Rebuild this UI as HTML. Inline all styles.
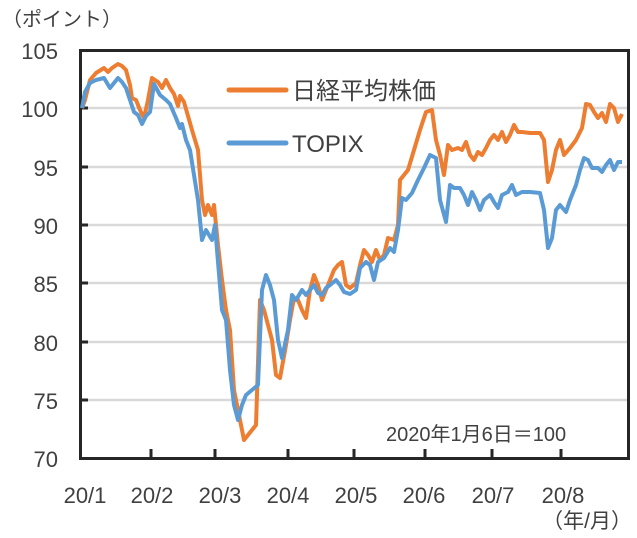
<!DOCTYPE html><html><head><meta charset="utf-8"><style>body{margin:0;background:#fff}svg{display:block}text{font-family:"Liberation Sans","Noto Sans CJK JP",sans-serif;fill:#404040}</style></head><body>
<svg width="637" height="538" viewBox="0 0 637 538">
<g stroke="#d9d9d9" stroke-width="2.5">
<line x1="82" y1="108" x2="628" y2="108"/><line x1="82" y1="167" x2="628" y2="167"/><line x1="82" y1="225" x2="628" y2="225"/><line x1="82" y1="283" x2="628" y2="283"/><line x1="82" y1="342" x2="628" y2="342"/><line x1="82" y1="400" x2="628" y2="400"/></g>
<rect x="80.5" y="50.5" width="548" height="408" fill="none" stroke="#262626" stroke-width="3"/>
<g stroke="#262626" stroke-width="3">
<line x1="80" y1="108" x2="88" y2="108"/><line x1="80" y1="167" x2="88" y2="167"/><line x1="80" y1="225" x2="88" y2="225"/><line x1="80" y1="283" x2="88" y2="283"/><line x1="80" y1="342" x2="88" y2="342"/><line x1="80" y1="400" x2="88" y2="400"/>
<line x1="151" y1="458" x2="151" y2="449"/><line x1="215" y1="458" x2="215" y2="449"/><line x1="288" y1="458" x2="288" y2="449"/><line x1="354" y1="458" x2="354" y2="449"/><line x1="425" y1="458" x2="425" y2="449"/><line x1="492" y1="458" x2="492" y2="449"/><line x1="561" y1="458" x2="561" y2="449"/></g>
<polyline fill="none" stroke="#ed7d31" stroke-width="4" stroke-linejoin="round" points="82,108 85,100 90,80 96,73 104,68 108,72 112,68 118,64 122,66 126,70 130,85 132,98 136,100 140,110 144,118 148,100 152,78 158,82 162,88 166,80 170,88 174,94 178,106 180,96 184,102 192,130 198,150 202,200 205,215 208,205 212,215 214,205 218,245 222,280 226,310 230,330 234,390 238,410 244,440 248,435 256,425 260,300 264,310 268,325 272,340 276,375 280,378 286,345 290,320 294,298 298,300 302,310 306,318 310,290 314,275 318,285 322,300 326,290 330,280 334,270 338,265 342,262 346,285 350,288 356,283 360,265 364,250 368,255 372,262 376,250 380,260 384,255 388,238 394,240 398,225 400,180 404,175 408,170 414,150 420,130 426,112 432,110 436,140 440,155 444,175 448,145 452,150 458,148 462,150 466,142 470,155 474,160 478,152 482,155 486,148 490,140 494,135 498,140 502,132 506,142 510,135 514,125 518,132 522,132 530,133 540,133 544,140 548,182 552,170 556,150 560,140 564,155 570,148 576,140 582,128 586,104 590,105 594,112 598,118 602,113 606,122 610,104 614,108 618,122 622,114"/>
<polyline fill="none" stroke="#5b9bd5" stroke-width="4" stroke-linejoin="round" points="82,108 85,92 90,83 96,80 104,78 110,88 118,78 122,82 126,88 130,100 134,112 138,115 142,124 146,116 150,112 154,84 160,95 166,100 170,104 176,118 180,128 182,124 186,140 190,150 194,175 198,200 202,240 206,230 212,240 215,225 218,262 222,310 226,320 230,370 234,405 238,420 242,405 246,395 252,390 258,385 262,290 266,275 270,285 274,300 278,340 282,358 288,330 292,295 296,300 302,290 306,295 310,290 314,285 318,293 322,295 326,288 330,285 336,280 340,285 344,292 350,294 356,290 360,268 366,262 370,265 374,280 378,262 384,258 390,248 394,252 398,230 402,198 406,200 412,193 418,180 424,168 430,155 436,158 440,200 446,222 450,185 454,188 460,188 464,195 468,205 472,192 476,200 480,210 484,200 490,195 494,202 498,208 502,195 508,192 512,185 516,195 522,192 530,192 540,193 544,210 548,248 552,238 556,210 560,205 566,212 570,200 576,185 580,170 584,158 588,160 592,168 598,168 602,172 606,165 610,160 614,170 618,162 622,162"/>
<line x1="229" y1="90" x2="286" y2="90" stroke="#ed7d31" stroke-width="5" stroke-linecap="round"/>
<line x1="229" y1="143" x2="286" y2="143" stroke="#5b9bd5" stroke-width="5" stroke-linecap="round"/>
<text x="292" y="99" font-size="24">日経平均株価</text>
<text x="292" y="152" font-size="24">TOPIX</text>
<text x="386" y="441" font-size="20">2020年1月6日＝100</text>
<text x="2" y="26" font-size="20">（ポイント）</text>
<g font-size="22" text-anchor="end"><text x="58" y="59">105</text><text x="58" y="117">100</text><text x="58" y="176">95</text><text x="58" y="234">90</text><text x="58" y="292">85</text><text x="58" y="351">80</text><text x="58" y="409">75</text><text x="58" y="467">70</text></g>
<g font-size="22" text-anchor="middle"><text x="85" y="503">20/1</text><text x="152" y="503">20/2</text><text x="220" y="503">20/3</text><text x="288" y="503">20/4</text><text x="356" y="503">20/5</text><text x="424" y="503">20/6</text><text x="493" y="503">20/7</text><text x="563" y="503">20/8</text></g>
<text x="632" y="528" font-size="21" text-anchor="end">（年/月）</text>
</svg></body></html>
